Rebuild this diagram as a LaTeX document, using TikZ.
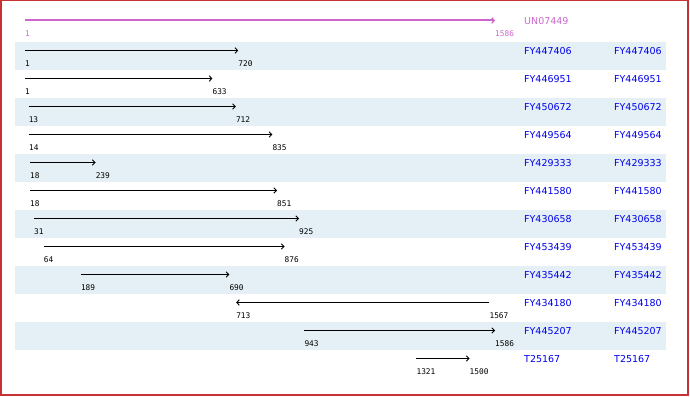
\documentclass[tikz,border=0pt]{standalone}
\usepackage{xcolor}
\usepackage{fontspec}
\setmainfont{DejaVu Sans}
\newfontfamily\numfont{DejaVu Sans Mono}
\usepackage{tikz}
\usetikzlibrary{arrows.meta}

\definecolor{bandblue}{RGB}{228,240,245}
\definecolor{qpurple}{RGB}{204,102,204}
\definecolor{hitblue}{RGB}{0,0,238}
\definecolor{frame}{RGB}{200,50,50}

\begin{document}
\begin{tikzpicture}[x=1pt,y=-1pt,
  seq/.style={line width=0.9pt,-{Straight Barb[length=2.6pt,width=5.5pt,line width=0.9pt]}},
  qseq/.style={qpurple,line width=2pt,-{Straight Barb[length=2.4pt,width=5.5pt,line width=1.3pt]}},
  num/.style={anchor=west,inner sep=0pt,font=\numfont\fontsize{7.8}{9}\selectfont},
  acc/.style={anchor=west,inner sep=0pt,text=hitblue,font=\fontsize{9.5}{11}\selectfont},
  band/.style={fill=bandblue,draw=none}]
\useasboundingbox (0,0) rectangle (690,396);
\draw[frame,line width=1.5pt] (0.75,0.75) rectangle (688,395);
\fill[band] (15,42) rectangle (666,70);
\fill[band] (15,98) rectangle (666,126);
\fill[band] (15,154) rectangle (666,182);
\fill[band] (15,210) rectangle (666,238);
\fill[band] (15,266) rectangle (666,294);
\fill[band] (15,322) rectangle (666,350);
% query
\coordinate (qs) at (25,20.5);
\coordinate (qe) at (495,20.5);
\draw[qseq] (qs) -- (qe);
\node[num,text=qpurple] (qsl) at (25,34) {1};
\node[num,text=qpurple] (qel) at (495,34) {1586};
\node[acc,text=qpurple] (qn) at (524,21.5) {UN07449};
% hits
\coordinate (s1) at (25,50.5);    \coordinate (e1) at (238.2,50.5);
\draw[seq] (s1) -- (e1);
\node[num] (s1l) at (25,64) {1}; \node[num] (e1l) at (238.2,64) {720};
\node[acc] (n1) at (524,51.5) {FY447406}; \node[acc] (m1) at (614,51.5) {FY447406};
\coordinate (s2) at (25,78.5);    \coordinate (e2) at (212.4,78.5);
\draw[seq] (s2) -- (e2);
\node[num] (s2l) at (25,92) {1}; \node[num] (e2l) at (212.4,92) {633};
\node[acc] (n2) at (524,79.5) {FY446951}; \node[acc] (m2) at (614,79.5) {FY446951};
\coordinate (s3) at (28.6,106.5); \coordinate (e3) at (235.8,106.5);
\draw[seq] (s3) -- (e3);
\node[num] (s3l) at (28.6,120) {13}; \node[num] (e3l) at (235.8,120) {712};
\node[acc] (n3) at (524,107.5) {FY450672}; \node[acc] (m3) at (614,107.5) {FY450672};
\coordinate (s4) at (28.9,134.5); \coordinate (e4) at (272.3,134.5);
\draw[seq] (s4) -- (e4);
\node[num] (s4l) at (28.9,148) {14}; \node[num] (e4l) at (272.3,148) {835};
\node[acc] (n4) at (524,135.5) {FY449564}; \node[acc] (m4) at (614,135.5) {FY449564};
\coordinate (s5) at (30,162.5);   \coordinate (e5) at (95.6,162.5);
\draw[seq] (s5) -- (e5);
\node[num] (s5l) at (30,176) {18}; \node[num] (e5l) at (95.6,176) {239};
\node[acc] (n5) at (524,163.5) {FY429333}; \node[acc] (m5) at (614,163.5) {FY429333};
\coordinate (s6) at (30,190.5);   \coordinate (e6) at (277,190.5);
\draw[seq] (s6) -- (e6);
\node[num] (s6l) at (30,204) {18}; \node[num] (e6l) at (277,204) {851};
\node[acc] (n6) at (524,191.5) {FY441580}; \node[acc] (m6) at (614,191.5) {FY441580};
\coordinate (s7) at (33.9,218.5); \coordinate (e7) at (299,218.5);
\draw[seq] (s7) -- (e7);
\node[num] (s7l) at (33.9,232) {31}; \node[num] (e7l) at (299,232) {925};
\node[acc] (n7) at (524,219.5) {FY430658}; \node[acc] (m7) at (614,219.5) {FY430658};
\coordinate (s8) at (43.7,246.5); \coordinate (e8) at (284.5,246.5);
\draw[seq] (s8) -- (e8);
\node[num] (s8l) at (43.7,260) {64}; \node[num] (e8l) at (284.5,260) {876};
\node[acc] (n8) at (524,247.5) {FY453439}; \node[acc] (m8) at (614,247.5) {FY453439};
\coordinate (s9) at (80.8,274.5); \coordinate (e9) at (229.3,274.5);
\draw[seq] (s9) -- (e9);
\node[num] (s9l) at (80.8,288) {189}; \node[num] (e9l) at (229.3,288) {690};
\node[acc] (n9) at (524,275.5) {FY435442}; \node[acc] (m9) at (614,275.5) {FY435442};
\coordinate (s10) at (236.1,302.5); \coordinate (e10) at (489.4,302.5);
\draw[seq] (e10) -- (s10);
\node[num] (s10l) at (236.1,316) {713}; \node[num] (e10l) at (489.4,316) {1567};
\node[acc] (n10) at (524,303.5) {FY434180}; \node[acc] (m10) at (614,303.5) {FY434180};
\coordinate (s11) at (304.3,330.5); \coordinate (e11) at (495,330.5);
\draw[seq] (s11) -- (e11);
\node[num] (s11l) at (304.3,344) {943}; \node[num] (e11l) at (495,344) {1586};
\node[acc] (n11) at (524,331.5) {FY445207}; \node[acc] (m11) at (614,331.5) {FY445207};
\coordinate (s12) at (416.4,358.5); \coordinate (e12) at (469.5,358.5);
\draw[seq] (s12) -- (e12);
\node[num] (s12l) at (416.4,372) {1321}; \node[num] (e12l) at (469.5,372) {1500};
\node[acc] (n12) at (524,359.5) {T25167}; \node[acc] (m12) at (614,359.5) {T25167};
\end{tikzpicture}
\end{document}
